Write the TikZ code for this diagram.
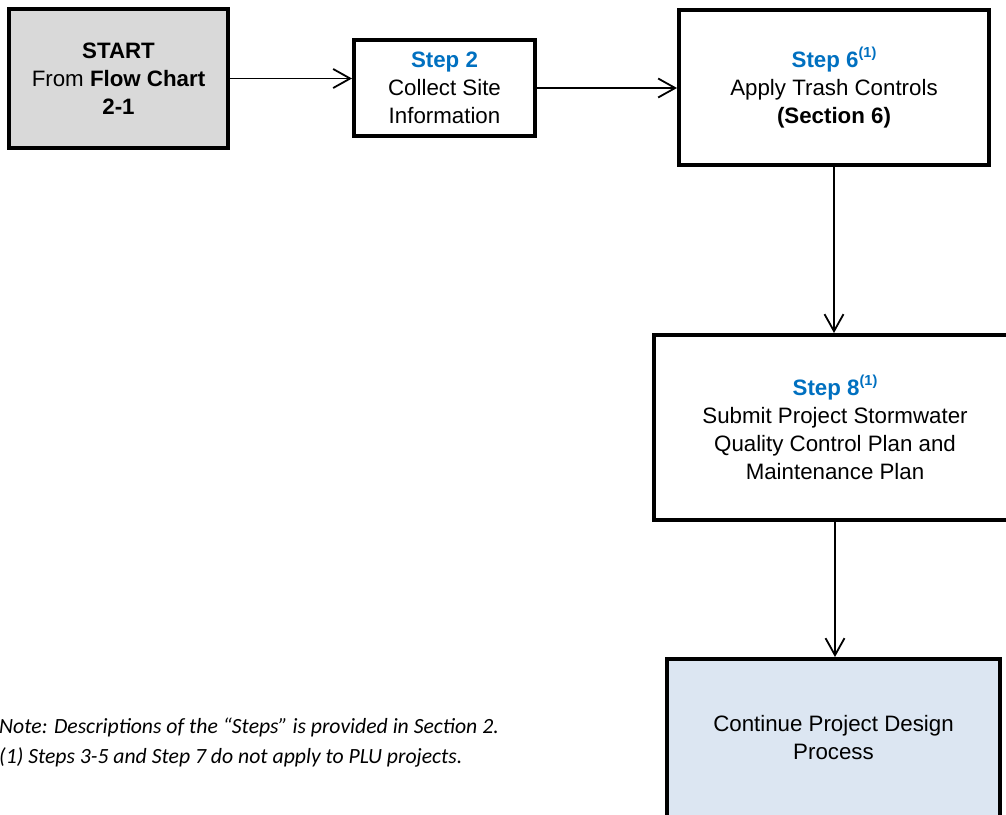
\documentclass[tikz,border=0pt]{standalone}
\usepackage{fontspec}
\setmainfont{Liberation Sans}
\newfontfamily\notefont{Carlito}
\usepackage{xcolor}
\usetikzlibrary{arrows.meta}

\definecolor{stepblue}{HTML}{0070C0}
\definecolor{startgray}{HTML}{D9D9D9}
\definecolor{endblue}{HTML}{DCE6F2}

% blue step title and the footnote mark after it
\newcommand{\steptitle}[1]{\textcolor{stepblue}{\textbf{#1}}}
\newcommand{\fnmark}{\raisebox{0.42em}{\fontsize{14.5}{14.5}\selectfont\textbf{(1)}}}

\begin{document}
\begin{tikzpicture}[x=1pt,y=-1pt,
    box/.style={draw,line width=4pt,align=center,inner sep=0pt,
      font=\fontsize{22.3}{28}\selectfont},
    arr/.style={line width=1.8pt,-{Straight Barb[length=17pt,width=19pt]}}]
    \useasboundingbox (0,0) rectangle (1006,814);

    % top row
    \node[box,fill=startgray,minimum width=219pt,minimum height=139pt] (start) at (118.5,78.5)
      {\textbf{START}\\From \textbf{Flow Chart}\\\textbf{2-1}};
    \node[box,minimum width=181pt,minimum height=96pt] (site) at (444.5,88)
      {\steptitle{Step 2}\\Collect Site\\Information};
    \node[box,minimum width=310pt,minimum height=155pt] (trash) at (834,87.5)
      {\steptitle{Step 6\fnmark}\\Apply Trash Controls\\\textbf{(Section 6)}};

    % right column, the last two boxes run off the page edge
    \node[box,minimum width=362pt,minimum height=185pt] (plan) at (835,427.5)
      {\steptitle{Step 8\fnmark}\\Submit Project Stormwater\\Quality Control Plan and\\Maintenance Plan};
    \node[box,fill=endblue,minimum width=333pt,minimum height=158pt] (design) at (833.5,738)
      {Continue Project Design\\Process};

    \draw[arr] (start.east) -- (start.east -| site.west);
    \draw[arr] (site.east) -- (site.east -| trash.west);
    \draw[arr] (trash.south) -- (trash.south |- plan.north);
    \draw[arr] (plan.south) -- (plan.south |- design.north);

    % notes
    \node[anchor=west,align=left,inner sep=0pt,
      font=\notefont\itshape\fontsize{21.7}{30}\selectfont] (note) at (-1,743)
      {Note: Descriptions of the “Steps” is provided in Section 2.\\
       (1) Steps 3-5 and Step 7 do not apply to PLU projects.};
\end{tikzpicture}
\end{document}
